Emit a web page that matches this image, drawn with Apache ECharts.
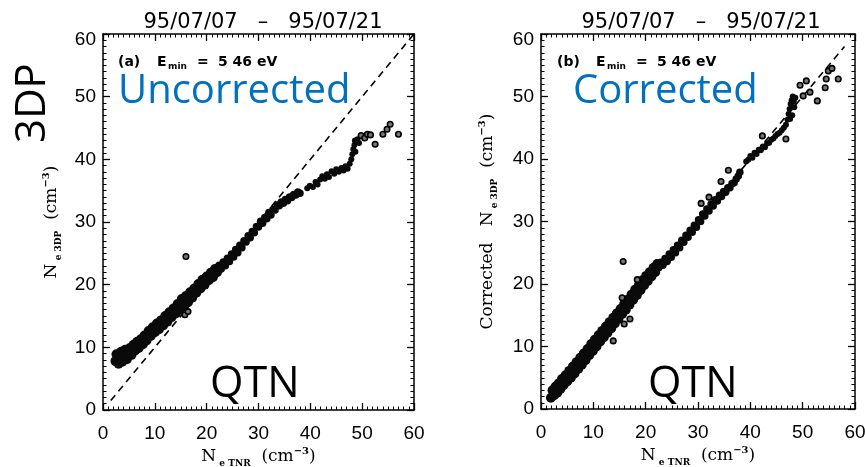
<!DOCTYPE html>
<html><head><meta charset="utf-8">
<script src="https://cdn.jsdelivr.net/npm/echarts@6/dist/echarts.min.js"></script>
<style>html,body{margin:0;padding:0;background:#fff}#c{width:865px;height:467px}</style>
</head><body><div id="c"></div>
<script>
// ---- texts ----
const dateRange = '95/07/07   –   95/07/21';
const panelTags = ['(a)', '(b)'];
const eminValue = '5 46 eV';
const panelWords = ['Uncorrected', 'Corrected'];
const sideWord = '3DP';
const bottomWord = 'QTN';
// ---- axes ----
const axisMin = 0;
const axisMax = 60;
const axisStep = 10;
// ---- dashed y = x reference lines ----
const diagLeft = [[1.5, 1.5], [60, 60]];
const diagRight = [[1.5, 1.5], [58, 58]];
// ---- panel (a) uncorrected ----
const leftCore = [[2.4,7.8],[2.6,8.9],[3.0,7.4],[3.1,8.4],[3.5,9.3],[3.7,7.7],[4.0,8.6],[4.3,9.6],[4.6,8.1],[4.9,9.1],[5.2,9.9],[5.5,8.8],[5.9,10.4],[6.2,9.5],[6.6,10.9],[6.9,9.9],[7.3,11.3],[7.7,10.5],[8.0,11.9],[8.4,11.1],[8.8,12.6],[9.2,11.8],[9.6,13.2],[10.0,12.4],[10.4,13.8],[10.8,12.9],[11.2,14.3],[11.6,13.5],[12.0,15.0],[12.4,14.1],[12.8,15.6],[13.2,14.8],[13.6,16.2],[14.0,15.4],[14.4,16.9],[14.8,16.0],[15.2,17.7],[15.6,16.6],[16.0,18.2],[16.4,17.2],[16.8,18.8],[17.2,17.9],[17.6,19.4],[18.0,18.7],[18.4,20.1],[18.8,19.4],[19.2,20.8],[19.6,20.0],[20.0,21.3],[20.4,20.7],[20.8,21.9],[21.2,21.2],[21.6,22.5],[22.0,22.0]];
const leftMid = [[22.4,23.1],[22.8,22.5],[23.2,23.6],[23.6,23.0],[24.0,24.2],[24.4,23.7],[24.8,24.9],[25.2,24.4],[25.6,25.6],[26.0,25.1],[26.4,26.3],[26.8,25.9],[27.2,27.0],[27.6,26.8],[28.0,27.8],[28.4,27.5],[28.8,28.5],[29.2,28.3],[29.6,29.3],[30.0,29.2],[30.4,30.1],[30.8,29.8],[31.2,30.7],[31.6,30.5],[32.0,31.5],[32.4,31.1],[32.8,32.0],[33.2,31.9],[33.6,32.7],[34.0,32.6],[34.4,33.2],[34.8,33.0],[35.2,33.6],[35.6,33.4],[36.0,34.0],[36.4,33.9],[36.8,34.4],[37.2,34.3],[37.6,34.8],[38.0,34.6]];
const leftUpper = [[39.4,35.4],[39.9,35.8],[40.5,35.6],[41.0,36.4],[41.4,36.0],[41.9,36.8],[42.3,37.3],[42.8,36.9],[43.2,37.6],[43.6,37.2],[44.1,38.1],[44.6,37.7],[45.0,38.4],[45.5,38.0],[46.0,38.6],[46.4,38.2],[46.8,38.9],[47.2,38.5],[47.6,39.3],[47.9,40.0],[48.1,40.8],[48.3,41.6],[48.5,42.3],[48.7,41.2],[48.9,42.8],[49.1,43.2],[48.6,43.0],[49.4,42.6]];
const leftOutliers = [[16.0,24.5],[15.8,15.2],[16.4,15.7],[49.8,43.8],[50.5,43.4],[51.0,44.0],[51.6,43.9],[52.5,42.4],[54.0,44.0],[54.8,44.8],[55.4,45.6],[57.0,44.0]];
// ---- panel (b) corrected ----
const rightCore = [[1.9,1.8],[2.2,3.0],[2.5,2.2],[2.8,3.6],[3.1,2.6],[3.4,4.1],[3.7,3.2],[4.0,4.8],[4.3,3.8],[4.7,5.4],[5.0,4.4],[5.4,6.1],[5.7,5.0],[6.1,6.8],[6.4,5.7],[6.8,7.5],[7.1,6.4],[7.5,8.2],[7.8,7.1],[8.2,8.9],[8.5,7.8],[8.9,9.6],[9.2,8.6],[9.6,10.4],[9.9,9.3],[10.3,11.1],[10.6,10.0],[11.0,11.8],[11.3,10.8],[11.7,12.5],[12.0,11.5],[12.4,13.2],[12.7,12.2],[13.1,13.9],[13.4,12.9],[13.8,14.6],[14.1,13.7],[14.5,15.3],[14.8,14.4],[15.2,16.0],[15.5,15.2],[15.9,16.8],[16.2,15.9],[16.6,17.5],[16.9,16.7],[17.3,18.3],[17.6,17.5],[18.0,19.1],[18.3,18.2],[18.7,19.8],[19.0,19.0],[19.4,20.6],[19.7,19.8],[20.1,21.3],[20.4,20.5],[20.8,21.9],[21.1,21.2],[21.5,22.6],[21.8,21.9],[22.2,23.2]];
const rightMid = [[22.5,22.6],[22.9,23.5],[23.3,23.0],[23.7,24.1],[24.1,23.6],[24.5,24.8],[24.9,24.3],[25.3,25.5],[25.7,25.0],[26.1,26.2],[26.5,25.8],[26.9,27.0],[27.3,26.7],[27.7,27.8],[28.1,27.5],[28.5,28.6],[28.9,28.3],[29.3,29.4],[29.7,29.1],[30.1,30.3],[30.5,30.0],[30.9,31.2],[31.3,30.9],[31.7,32.0],[32.1,31.7],[32.5,32.8],[32.9,32.5],[33.3,33.5],[33.7,33.3],[34.1,34.2],[34.5,34.0],[34.9,34.8],[35.3,34.7],[35.7,35.4],[36.1,35.4],[36.5,36.1],[36.9,36.2],[37.3,36.8],[37.7,37.3],[38.0,37.9]];
const rightUpper = [[39.2,39.6],[39.6,39.9],[40.0,40.5],[40.4,40.2],[40.8,41.0],[41.2,40.8],[41.6,41.5],[42.0,41.4],[42.4,42.0],[42.8,41.9],[43.2,42.5],[43.6,42.6],[44.0,43.1],[44.4,43.3],[44.8,43.7],[45.2,44.0],[45.6,44.2],[46.0,44.6],[46.4,45.0],[46.8,45.5],[47.1,46.3],[47.3,47.2],[47.5,48.0],[47.7,48.8],[47.9,49.4],[48.1,50.0],[48.3,49.2],[48.4,48.3],[48.6,49.8],[48.0,47.0],[47.6,46.4]];
const rightOutliers = [[15.7,23.6],[15.5,17.8],[17.0,14.4],[15.9,13.6],[13.8,10.9],[18.4,20.7],[30.6,32.9],[32.1,33.9],[34.4,36.4],[35.8,38.2],[42.3,43.7],[46.8,43.2],[49.5,51.8],[50.7,52.5],[51.4,50.7],[50.1,50.1],[52.8,49.3],[54.9,54.1],[55.6,54.5],[54.5,52.8],[54.3,51.4],[56.8,52.8]];

const chart = echarts.init(document.getElementById('c'));
const black = '#000';
const serif = 'DejaVu Serif';
const nameRich = {
  n: {fontFamily: serif, fontSize: 17, color: black, lineHeight: 22},
  s: {fontFamily: serif, fontSize: 9, fontWeight: 'bold', color: black, lineHeight: 10, verticalAlign: 'bottom'},
  p: {fontFamily: serif, fontSize: 10, fontWeight: 'bold', color: black, lineHeight: 10, verticalAlign: 'top'}
};
function axis(g, pos, showLabel, extra) {
  const isX = (pos === 'bottom' || pos === 'top');
  return Object.assign({
    type: 'value', gridIndex: g, position: pos, min: axisMin, max: axisMax, interval: axisStep,
    nameMoveOverlap: false,
    axisLine: {show: true, onZero: false, lineStyle: {color: black, width: 1.5}},
    axisTick: {show: true, inside: true, length: 7, lineStyle: {color: black, width: 1.3}},
    minorTick: {show: true, splitNumber: 10, length: 3.5, lineStyle: {color: black, width: 1}},
    splitLine: {show: false},
    axisLabel: {show: showLabel, color: black, fontFamily: 'Liberation Sans', fontSize: 19,
      margin: isX ? 14 : 7,
      formatter: isX ? '{value}' : function (v) { return v === axisMax ? '{d|' + v + '}' : String(v); },
      rich: {d: {fontFamily: 'Liberation Sans', fontSize: 19, color: black, padding: [12, 0, 0, 0]}}}
  }, extra || {});
}
const xName = '{n|N}{s| e TNR}{n|  (cm}{p|−3}{n|)}';
const xAxes = [
  axis(0, 'bottom', true, {name: xName, nameLocation: 'middle', nameGap: 36, nameTextStyle: {rich: nameRich}}),
  axis(0, 'top', false),
  axis(1, 'bottom', true, {name: xName, nameLocation: 'middle', nameGap: 36, nameTextStyle: {rich: nameRich}}),
  axis(1, 'top', false)
];
const yAxes = [
  axis(0, 'left', true, {name: '{n|N}{s| e 3DP}{n|  (cm}{p|−3}{n|)}', nameLocation: 'middle', nameGap: 40, nameRotate: 90, nameTextStyle: {rich: nameRich}}),
  axis(0, 'right', false),
  axis(1, 'left', true, {name: '{n|Corrected   N}{s| e 3DP}{n|  (cm}{p|−3}{n|)}', nameLocation: 'middle', nameGap: 42, nameRotate: 90, nameTextStyle: {rich: nameRich}}),
  axis(1, 'right', false)
];
function scat(data, g, size, hollow) {
  return {
    type: 'scatter', data: data, xAxisIndex: g * 2, yAxisIndex: g * 2, z: 3,
    symbol: 'circle', symbolSize: size, silent: true,
    itemStyle: hollow ? {color: '#777', borderColor: black, borderWidth: 1.6, opacity: 1}
                      : {color: '#0a0a0a', opacity: 1}
  };
}
function diag(data, g) {
  return {type: 'line', data: data, xAxisIndex: g * 2, yAxisIndex: g * 2, symbol: 'none', z: 2, silent: true,
    lineStyle: {color: black, width: 1.6, type: [7, 5]}};
}
const titleFont = {fontFamily: 'DejaVu Sans', fontSize: 21, fontWeight: 'normal', color: black};
function tag(x0, label) {
  const f = 'bold 14px "DejaVu Sans"';
  const y = 62;
  const mk = (dx, txt, font, dy) => ({type: 'text', x: x0 + dx, y: y + (dy || 0), z: 10, silent: true,
    style: {text: txt, fill: black, font: font, textAlign: 'left', textVerticalAlign: 'middle'}});
  return [
    mk(0, label, f),
    mk(39, 'E', f),
    mk(50, 'min', 'bold 9px "DejaVu Sans"', 5),
    mk(79, '=', f),
    mk(100, eminValue, f)
  ];
}
function bigText(x, y, txt, size, color, rot) {
  return {type: 'text', x: x, y: y, rotation: rot || 0, z: 10, silent: true,
    style: {text: txt, fill: color, font: size + 'px "Open Sans"', textAlign: rot ? 'center' : 'left', textVerticalAlign: 'middle'}};
}
chart.setOption({
  animation: false,
  backgroundColor: '#fff',
  title: [
    {text: dateRange, left: 258, top: 7, textAlign: 'center', textStyle: titleFont},
    {text: dateRange, left: 696, top: 7, textAlign: 'center', textStyle: titleFont}
  ],
  grid: [
    {left: 103, top: 34, width: 311, height: 376, outerBoundsMode: 'none', containLabel: false},
    {left: 541, top: 34, width: 314, height: 375, outerBoundsMode: 'none', containLabel: false}
  ],
  xAxis: xAxes,
  yAxis: yAxes,
  series: [
    diag(diagLeft, 0), diag(diagRight, 1),
    scat(leftCore, 0, 10, false), scat(leftMid, 0, 7.5, false), scat(leftUpper, 0, 6, false), scat(leftOutliers, 0, 5.5, true),
    scat(rightCore, 1, 10, false), scat(rightMid, 1, 7.5, false), scat(rightUpper, 1, 6, false), scat(rightOutliers, 1, 5.5, true)
  ],
  graphic: [].concat(
    tag(118, panelTags[0]),
    tag(557, panelTags[1]),
    [
      bigText(118, 91.5, panelWords[0], 40, '#0070C0'),
      bigText(573, 91.5, panelWords[1], 40, '#0070C0'),
      bigText(210, 384.5, bottomWord, 43, black),
      bigText(648, 384.5, bottomWord, 43, black),
      bigText(33, 103, sideWord, 42, black, Math.PI / 2)
    ]
  )
});
</script></body></html>
